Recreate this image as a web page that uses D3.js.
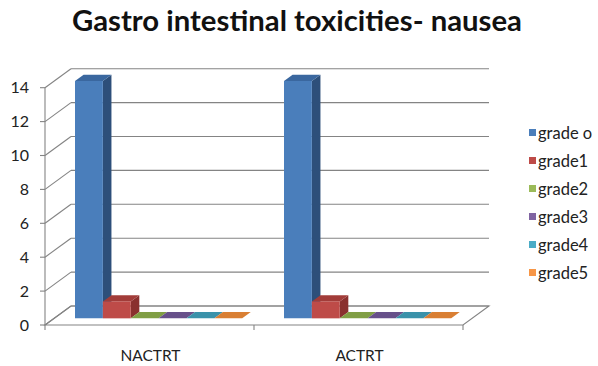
<!DOCTYPE html>
<html>
<head>
<meta charset="utf-8">
<script src="https://cdn.jsdelivr.net/npm/d3@7"></script>
<style>
  html, body { margin: 0; padding: 0; background: #ffffff; }
  svg { display: block; font-family: Lato, "Open Sans", sans-serif; }
</style>
</head>
<body>
<script>
// Chart data
const categories = ["NACTRT", "ACTRT"];
const seriesNames = ["grade o", "grade1", "grade2", "grade3", "grade4", "grade5"];
const nactrtValues = [14, 1, 0, 0, 0, 0];
const actrtValues = [14, 1, 0, 0, 0, 0];
const yTicks = [0, 2, 4, 6, 8, 10, 12, 14];
const titleText = "Gastro intestinal toxicities- nausea";

// Face colours per series: front, side, top
const seriesColors = [
  { front: "#4a7ebb", side: "#2d4f7a", top: "#3a679f" },
  { front: "#be4b48", side: "#8a302e", top: "#a23c39" },
  { front: "#9bbb59", side: "#718c3c", top: "#809e44" },
  { front: "#8064a2", side: "#5a4578", top: "#67508a" },
  { front: "#4bacc6", side: "#2f7f95", top: "#3a92aa" },
  { front: "#f79646", side: "#bd6a26", top: "#d97f33" }
];

const valuesByCategory = [nactrtValues, actrtValues];

const W = 598, H = 366;
const svg = d3.select("body").append("svg")
  .attr("width", W).attr("height", H);

// Oblique projection: x along categories, v = value, z = depth (0 front, 1 back)
const DX = 26, DY = 19;
const y = d3.scaleLinear().domain([0, 14]).range([325, 87.7]);
const xOuter = d3.scaleBand().domain(categories).range([45, 463]).padding(0);
const bw = xOuter.bandwidth();
const xInner = d3.scaleBand().domain(seriesNames).range([0.1 * bw, 0.9 * bw]).padding(0);

function P(x, v, z) { return [x + DX * z, y(v) - DY * z]; }
const poly = pts => pts.map(p => p.join(",")).join(" ");

const gridColor = "#848484";

// Floor
const x0 = 45, x1 = 463;
svg.append("polygon")
  .attr("points", poly([P(x0, 0, 0), P(x1, 0, 0), P(x1, 0, 1), P(x0, 0, 1)]))
  .attr("fill", "#ffffff").attr("stroke", gridColor).attr("stroke-width", 1.1);

// Back-wall gridlines and left-wall connectors
const grid = svg.append("g").attr("stroke", gridColor).attr("stroke-width", 1.1).attr("fill", "none");
yTicks.forEach(v => {
  const a = P(x0, v, 1), b = P(x1, v, 1);
  grid.append("line").attr("x1", a[0]).attr("y1", a[1]).attr("x2", b[0]).attr("y2", b[1]);
  const f = P(x0, v, 0);
  grid.append("line").attr("x1", f[0]).attr("y1", f[1]).attr("x2", a[0]).attr("y2", a[1]);
  // tick mark on the value axis
  grid.append("line").attr("x1", f[0] - 5).attr("y1", f[1]).attr("x2", f[0]).attr("y2", f[1]);
});

// Value axis line
grid.append("line")
  .attr("x1", x0).attr("y1", y(0)).attr("x2", x0).attr("y2", y(14));

// Category tick marks
[x0, x0 + bw, x1].forEach(x => {
  grid.append("line").attr("x1", x).attr("y1", y(0)).attr("x2", x).attr("y2", y(0) + 5);
});

// Value axis labels
svg.append("g").selectAll("text").data(yTicks).join("text")
  .attr("x", 29).attr("y", d => y(d))
  .attr("dy", "0.35em")
  .attr("text-anchor", "end")
  .attr("font-size", 16).attr("fill", "#222")
  .text(d => d);

// Category labels
svg.append("g").selectAll("text").data(categories).join("text")
  .attr("x", d => xOuter(d) + bw / 2 + 1)
  .attr("y", 361)
  .attr("text-anchor", "middle")
  .attr("font-size", 15.5).attr("fill", "#222")
  .text(d => d);

// 3D bars
const z0 = 0.35, z1 = 0.68;
const barsG = svg.append("g");
categories.forEach((cat, ci) => {
  seriesNames.forEach((s, si) => {
    const v = valuesByCategory[ci][si];
    const bx0 = xOuter(cat) + xInner(s);
    const bx1 = bx0 + xInner.bandwidth();
    const col = seriesColors[si];
    const g = barsG.append("g");
    g.append("polygon")
      .attr("points", poly([P(bx1, 0, z0), P(bx1, 0, z1), P(bx1, v, z1), P(bx1, v, z0)]))
      .attr("fill", col.side);
    g.append("polygon")
      .attr("points", poly([P(bx0, v, z0), P(bx1, v, z0), P(bx1, v, z1), P(bx0, v, z1)]))
      .attr("fill", col.top);
    if (v > 0) {
      g.append("polygon")
        .attr("points", poly([P(bx0, 0, z0), P(bx1, 0, z0), P(bx1, v, z0), P(bx0, v, z0)]))
        .attr("fill", col.front);
    }
  });
});

// Title
svg.append("text")
  .attr("x", 297).attr("y", 31)
  .attr("text-anchor", "middle")
  .attr("font-size", 29).attr("font-weight", "bold").attr("fill", "#111")
  .attr("textLength", 450).attr("lengthAdjust", "spacingAndGlyphs")
  .text(titleText);

// Legend
const legend = svg.append("g").attr("transform", "translate(529,133)");
const items = legend.selectAll("g").data(seriesNames).join("g")
  .attr("transform", (d, i) => `translate(0,${i * 28})`);
items.append("rect")
  .attr("x", 0).attr("y", -4).attr("width", 7).attr("height", 7)
  .attr("fill", (d, i) => seriesColors[i].front);
items.append("text")
  .attr("x", 9).attr("y", 0).attr("dy", "0.35em")
  .attr("font-size", 16.5).attr("fill", "#222")
  .text(d => d);
</script>
</body>
</html>
